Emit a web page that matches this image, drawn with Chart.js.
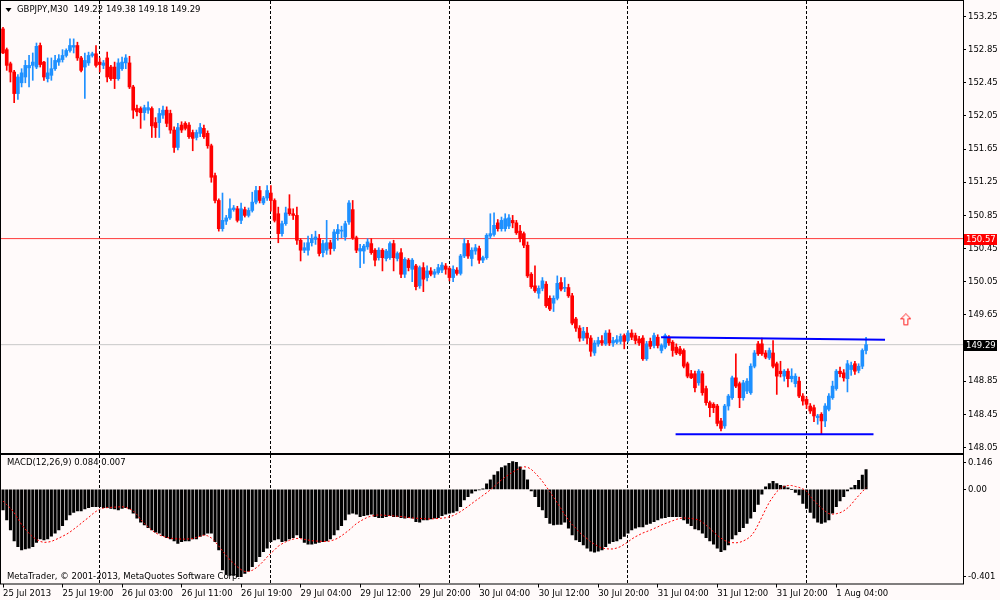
<!DOCTYPE html>
<html>
<head>
<meta charset="utf-8">
<script src="https://cdn.jsdelivr.net/npm/chart.js@4.4.1/dist/chart.umd.min.js"></script>
<style>
html, body { margin: 0; padding: 0; background: #fffafa; }
#wrap { position: relative; width: 1000px; height: 600px; overflow: hidden; background: #fffafa; }
canvas { position: absolute; left: 0; }
#price { top: 0; }
#macd { top: 454px; }
</style>
</head>
<body>
<div id="wrap">
  <canvas id="price" width="1000" height="454"></canvas>
  <canvas id="macd" width="1000" height="146"></canvas>
</div>
<script>
// GBPJPY M30, 25 Jul 11:00 .. 1 Aug 08:00 (233 bars)
const open = [
  153.10,152.85,152.68,152.58,152.32,152.45,152.52,152.63,152.66,152.64,
  152.90,152.70,152.50,152.54,152.62,152.70,152.73,152.78,152.84,152.88,
  152.90,152.75,152.64,152.69,152.78,152.80,152.70,152.66,152.75,152.64,
  152.64,152.50,152.62,152.69,152.69,152.40,152.14,152.14,152.09,152.12,
  152.14,151.97,151.97,152.06,152.12,152.08,151.88,151.67,151.94,151.96,
  151.94,151.85,151.79,151.84,151.90,151.84,151.69,151.33,151.03,150.69,
  150.78,150.82,150.92,150.93,150.79,150.92,150.85,150.91,151.01,151.15,
  151.00,151.06,151.12,151.03,150.87,150.63,150.75,150.93,150.87,150.85,
  150.55,150.43,150.43,150.52,150.56,150.57,150.40,150.43,150.52,150.45,
  150.63,150.66,150.59,150.77,150.92,150.58,150.42,150.42,150.47,150.51,
  150.43,150.34,150.43,150.33,150.34,150.51,150.33,150.40,150.14,150.31,
  150.20,150.24,150.00,150.22,150.10,150.18,150.14,150.16,150.19,150.24,
  150.21,150.10,150.19,150.15,150.36,150.51,150.33,150.42,150.45,150.31,
  150.34,150.60,150.62,150.76,150.69,150.69,150.72,150.79,150.76,150.66,
  150.63,150.49,150.14,150.00,149.91,149.97,150.02,149.85,149.79,149.85,
  150.04,149.97,149.98,149.88,149.60,149.49,149.37,149.43,149.37,149.19,
  149.30,149.34,149.30,149.43,149.31,149.32,149.33,149.40,149.34,149.43,
  149.40,149.36,149.37,149.12,149.33,149.28,149.38,149.22,149.26,149.38,
  149.32,149.26,149.24,149.22,149.06,148.94,148.94,148.83,148.94,148.76,
  148.59,148.57,148.55,148.37,148.31,148.55,148.65,148.89,148.82,148.65,
  148.73,148.71,149.03,149.30,149.30,149.19,149.13,149.19,149.06,148.97,
  148.91,148.97,148.88,148.82,148.85,148.67,148.63,148.55,148.53,148.41,
  148.45,148.37,148.51,148.65,148.76,148.97,148.95,148.88,148.99,149.06,
  148.98,149.03,149.22
];
const high = [
  153.12,152.87,152.70,152.60,152.55,152.62,152.72,152.78,152.81,152.93,
  152.93,152.71,152.75,152.75,152.78,152.79,152.85,152.86,152.98,152.98,
  152.94,152.77,152.81,152.82,152.82,152.90,152.75,152.72,152.82,152.66,
  152.70,152.74,152.76,152.79,152.77,152.42,152.18,152.16,152.18,152.22,
  152.16,152.03,152.14,152.17,152.16,152.12,151.92,151.96,151.98,151.98,
  151.97,151.88,151.88,151.96,151.94,151.87,151.71,151.36,151.05,151.12,
  150.85,151.05,150.97,150.96,151.00,150.95,150.94,151.13,151.20,151.20,
  151.08,151.21,151.21,151.05,150.95,150.78,150.95,151.10,150.93,150.95,
  150.57,150.52,150.60,150.62,150.66,150.62,150.55,150.79,150.55,150.68,
  150.74,150.72,150.78,151.03,151.03,150.60,150.50,150.50,150.57,150.57,
  150.45,150.46,150.45,150.44,150.53,150.55,150.41,150.45,150.34,150.33,
  150.33,150.26,150.24,150.28,150.24,150.22,150.20,150.26,150.28,150.27,
  150.23,150.24,150.22,150.38,150.57,150.55,150.46,150.50,150.48,150.36,
  150.63,150.87,150.88,150.80,150.83,150.87,150.86,150.85,150.79,150.73,
  150.65,150.53,150.16,150.24,150.00,150.10,150.05,149.88,149.88,150.12,
  150.10,150.10,150.02,149.91,149.62,149.52,149.50,149.50,149.40,149.34,
  149.38,149.40,149.46,149.47,149.38,149.40,149.42,149.42,149.46,149.47,
  149.43,149.39,149.40,149.33,149.37,149.43,149.41,149.30,149.42,149.40,
  149.34,149.30,149.27,149.24,149.08,148.98,148.97,148.99,148.97,148.79,
  148.61,148.59,148.57,148.40,148.57,148.69,148.91,149.18,148.84,148.86,
  148.88,149.06,149.22,149.33,149.37,149.22,149.25,149.34,149.08,149.09,
  148.99,149.00,149.00,148.94,148.90,148.70,148.66,148.58,148.56,148.45,
  148.47,148.58,148.70,148.85,148.99,149.02,148.99,149.10,149.08,149.09,
  149.06,149.24,149.38
];
const low = [
  152.80,152.60,152.46,152.21,152.25,152.40,152.45,152.40,152.48,152.62,
  152.64,152.48,152.46,152.48,152.60,152.66,152.70,152.76,152.82,152.81,
  152.72,152.58,152.26,152.66,152.76,152.64,152.58,152.62,152.46,152.48,
  152.38,152.48,152.60,152.62,152.38,152.02,152.05,151.90,152.00,152.08,
  151.79,151.79,151.79,152.02,151.92,151.84,151.61,151.64,151.85,151.88,
  151.78,151.63,151.76,151.80,151.78,151.66,151.25,151.00,150.66,150.66,
  150.74,150.80,150.90,150.77,150.75,150.83,150.83,150.89,150.99,151.00,
  150.98,151.03,150.90,150.77,150.52,150.60,150.73,150.85,150.80,150.50,
  150.30,150.40,150.37,150.48,150.50,150.36,150.35,150.38,150.38,150.42,
  150.55,150.58,150.55,150.74,150.56,150.40,150.22,150.27,150.44,150.38,
  150.24,150.31,150.18,150.30,150.32,150.18,150.30,150.10,150.10,150.18,
  150.05,149.95,149.97,149.93,150.06,150.12,150.10,150.14,150.16,150.14,
  150.06,150.05,150.13,150.13,150.34,150.33,150.24,150.38,150.27,150.28,
  150.32,150.57,150.60,150.66,150.66,150.66,150.69,150.70,150.62,150.53,
  150.46,150.10,149.97,149.92,149.85,149.94,149.74,149.70,149.69,149.83,
  149.94,149.93,149.86,149.53,149.45,149.33,149.34,149.30,149.15,149.16,
  149.27,149.28,149.28,149.28,149.27,149.30,149.30,149.24,149.32,149.35,
  149.30,149.28,149.10,149.10,149.24,149.25,149.25,149.19,149.24,149.28,
  149.15,149.17,149.16,149.01,148.89,148.88,148.72,148.80,148.68,148.56,
  148.42,148.47,148.31,148.25,148.28,148.50,148.63,148.77,148.53,148.62,
  148.70,148.69,149.01,149.16,149.16,149.12,149.11,149.01,148.69,148.90,
  148.85,148.78,148.84,148.78,148.65,148.56,148.52,148.46,148.36,148.33,
  148.21,148.30,148.49,148.63,148.74,148.90,148.85,148.72,148.92,148.93,
  148.95,149.00,149.18
];
const close = [
  152.81,152.66,152.58,152.32,152.52,152.57,152.66,152.66,152.70,152.89,
  152.67,152.52,152.57,152.62,152.72,152.74,152.78,152.84,152.90,152.90,
  152.75,152.60,152.72,152.78,152.80,152.66,152.67,152.69,152.52,152.50,
  152.50,152.69,152.70,152.75,152.40,152.12,152.10,152.09,152.15,152.15,
  151.93,151.91,152.08,152.12,151.96,151.88,151.67,151.91,151.88,151.90,
  151.80,151.78,151.85,151.91,151.80,151.69,151.31,151.03,150.69,150.79,
  150.82,150.93,150.94,150.79,150.93,150.85,150.91,151.01,151.15,151.03,
  151.06,151.15,151.03,150.79,150.63,150.75,150.88,150.87,150.85,150.55,
  150.43,150.46,150.52,150.57,150.59,150.39,150.51,150.52,150.45,150.65,
  150.68,150.67,150.75,151.00,150.58,150.43,150.45,150.48,150.53,150.40,
  150.31,150.43,150.34,150.42,150.51,150.34,150.39,150.14,150.32,150.22,
  150.31,149.99,150.22,150.08,150.18,150.14,150.17,150.22,150.25,150.20,
  150.10,150.20,150.15,150.36,150.51,150.36,150.43,150.46,150.31,150.34,
  150.61,150.63,150.73,150.69,150.79,150.81,150.82,150.76,150.64,150.57,
  150.49,150.12,149.99,149.94,149.97,150.06,149.76,149.72,149.85,150.03,
  149.96,149.98,149.88,149.55,149.49,149.37,149.45,149.37,149.21,149.31,
  149.34,149.31,149.43,149.31,149.34,149.35,149.39,149.33,149.43,149.38,
  149.34,149.31,149.12,149.30,149.27,149.40,149.28,149.28,149.40,149.31,
  149.22,149.19,149.18,149.03,148.91,148.89,148.77,148.97,148.71,148.59,
  148.53,148.53,148.34,148.28,148.55,148.67,148.89,148.79,148.65,148.83,
  148.85,149.03,149.19,149.18,149.18,149.14,149.22,149.03,148.91,148.94,
  148.97,148.88,148.91,148.91,148.67,148.61,148.57,148.49,148.43,148.43,
  148.37,148.55,148.67,148.79,148.97,148.94,148.89,149.06,149.04,148.97,
  149.03,149.22,149.29
];
const macdMain = [
  -0.088,-0.130,-0.173,-0.220,-0.244,-0.258,-0.254,-0.251,-0.244,-0.226,
  -0.211,-0.216,-0.211,-0.200,-0.187,-0.173,-0.155,-0.130,-0.109,-0.098,
  -0.092,-0.092,-0.084,-0.078,-0.074,-0.074,-0.074,-0.078,-0.078,-0.081,
  -0.084,-0.088,-0.081,-0.078,-0.084,-0.102,-0.123,-0.140,-0.152,-0.163,
  -0.173,-0.183,-0.187,-0.197,-0.206,-0.211,-0.220,-0.230,-0.223,-0.220,
  -0.220,-0.211,-0.211,-0.201,-0.194,-0.187,-0.187,-0.223,-0.258,-0.343,
  -0.362,-0.367,-0.367,-0.372,-0.372,-0.358,-0.348,-0.329,-0.308,-0.287,
  -0.265,-0.251,-0.223,-0.216,-0.211,-0.223,-0.220,-0.211,-0.206,-0.194,
  -0.206,-0.226,-0.234,-0.234,-0.230,-0.226,-0.223,-0.220,-0.211,-0.194,
  -0.173,-0.155,-0.130,-0.106,-0.102,-0.106,-0.116,-0.112,-0.109,-0.106,
  -0.116,-0.121,-0.121,-0.116,-0.112,-0.116,-0.116,-0.121,-0.123,-0.121,
  -0.123,-0.138,-0.140,-0.130,-0.130,-0.126,-0.123,-0.121,-0.112,-0.106,
  -0.102,-0.098,-0.092,-0.074,-0.045,-0.031,-0.017,-0.007,-0.003,0.001,
  0.023,0.040,0.061,0.075,0.092,0.100,0.111,0.118,0.115,0.096,
  0.082,0.040,-0.007,-0.031,-0.074,-0.088,-0.121,-0.145,-0.152,-0.149,
  -0.149,-0.140,-0.166,-0.194,-0.216,-0.223,-0.237,-0.251,-0.263,-0.268,
  -0.263,-0.258,-0.244,-0.230,-0.223,-0.220,-0.211,-0.201,-0.187,-0.173,
  -0.166,-0.160,-0.160,-0.150,-0.145,-0.138,-0.130,-0.123,-0.121,-0.116,
  -0.116,-0.116,-0.116,-0.130,-0.145,-0.155,-0.169,-0.173,-0.187,-0.206,
  -0.220,-0.234,-0.251,-0.265,-0.258,-0.237,-0.211,-0.194,-0.180,-0.163,
  -0.145,-0.123,-0.095,-0.064,-0.021,0.010,0.024,0.034,0.024,0.017,
  0.014,0.006,0.000,-0.013,-0.024,-0.060,-0.081,-0.098,-0.123,-0.140,
  -0.145,-0.140,-0.130,-0.102,-0.074,-0.050,-0.031,-0.007,0.006,0.017,
  0.038,0.060,0.084
];
const macdSignal = [
  -0.050,-0.066,-0.080,-0.100,-0.125,-0.150,-0.170,-0.188,-0.203,-0.214,
  -0.222,-0.226,-0.225,-0.222,-0.215,-0.208,-0.200,-0.192,-0.182,-0.170,
  -0.158,-0.145,-0.132,-0.120,-0.106,-0.094,-0.085,-0.080,-0.078,-0.077,
  -0.076,-0.075,-0.074,-0.077,-0.083,-0.092,-0.108,-0.128,-0.145,-0.160,
  -0.174,-0.185,-0.194,-0.200,-0.205,-0.208,-0.210,-0.211,-0.212,-0.212,
  -0.211,-0.210,-0.205,-0.200,-0.195,-0.198,-0.207,-0.222,-0.242,-0.262,
  -0.282,-0.300,-0.315,-0.330,-0.342,-0.350,-0.350,-0.345,-0.335,-0.322,
  -0.306,-0.288,-0.272,-0.258,-0.242,-0.232,-0.224,-0.217,-0.212,-0.209,
  -0.210,-0.213,-0.216,-0.219,-0.220,-0.221,-0.222,-0.222,-0.220,-0.215,
  -0.208,-0.198,-0.186,-0.174,-0.160,-0.146,-0.136,-0.127,-0.119,-0.114,
  -0.111,-0.109,-0.110,-0.111,-0.112,-0.113,-0.115,-0.116,-0.118,-0.120,
  -0.122,-0.123,-0.124,-0.125,-0.126,-0.126,-0.125,-0.124,-0.123,-0.121,
  -0.117,-0.112,-0.104,-0.095,-0.084,-0.073,-0.061,-0.049,-0.038,-0.026,
  -0.015,-0.002,0.012,0.027,0.040,0.052,0.063,0.073,0.082,0.090,
  0.096,0.094,0.085,0.070,0.053,0.034,0.012,-0.010,-0.034,-0.058,
  -0.082,-0.108,-0.130,-0.150,-0.166,-0.184,-0.198,-0.210,-0.224,-0.234,
  -0.243,-0.250,-0.253,-0.254,-0.254,-0.250,-0.244,-0.234,-0.224,-0.212,
  -0.202,-0.194,-0.186,-0.180,-0.174,-0.167,-0.160,-0.152,-0.146,-0.140,
  -0.134,-0.128,-0.124,-0.122,-0.123,-0.124,-0.127,-0.130,-0.140,-0.153,
  -0.166,-0.181,-0.196,-0.208,-0.218,-0.225,-0.227,-0.228,-0.226,-0.220,
  -0.212,-0.200,-0.180,-0.150,-0.118,-0.085,-0.055,-0.032,-0.010,0.004,
  0.012,0.016,0.016,0.012,0.008,0.002,-0.008,-0.030,-0.048,-0.064,
  -0.080,-0.093,-0.104,-0.106,-0.104,-0.100,-0.092,-0.080,-0.065,-0.045,
  -0.027,-0.010,0.007
];

const timeLabels = ["25 Jul 2013","25 Jul 19:00","26 Jul 03:00","26 Jul 11:00","26 Jul 19:00",
  "29 Jul 04:00","29 Jul 12:00","29 Jul 20:00","30 Jul 04:00","30 Jul 12:00",
  "30 Jul 20:00","31 Jul 04:00","31 Jul 12:00","31 Jul 20:00","1 Aug 04:00"];
const timeTickBars = [0,16,32,48,64,80,96,112,128,144,160,176,192,208,224];
const daySeparatorBars = [26,72,120,168,216];
const priceTickLabels = ["153.25","152.85","152.45","152.05","151.65","151.25","150.85",
  "150.45","150.05","149.65","149.25","148.85","148.45","148.05"];
const macdTickLabels = ["0.146","0.00","-0.401"];

const symbolTitle = "GBPJPY,M30  149.22 149.38 149.18 149.29";
const macdTitle = "MACD(12,26,9) 0.084 0.007";
const copyright = "MetaTrader, \u00a9 2001-2013, MetaQuotes Software Corp.";

const redLevel = 150.57;
const bidLevel = 149.29;
const necklinePts = [{ x: 176.9, y: 149.38 }, { x: 237.1, y: 149.35 }];
const supportPts = [{ x: 180.8, y: 148.21 }, { x: 234.0, y: 148.21 }];
const arrowPt = [{ x: 242.7, y: 149.59 }];

// ---- styling / layout ----
const BULL = "#1e90ff";
const BEAR = "#ff0000";
const X_MIN = -0.54, X_MAX = 258.06;
const FONT = { family: "DejaVu Sans", size: 8.5 };
const FONT_CSS = '8.5px "DejaVu Sans"';

const barIndex = close.map((_, i) => i);
const floatBars = (a, b) => barIndex.map(i => ({ x: i, y: [a[i], b[i]] }));
const candleColor = c => close[c.dataIndex] >= open[c.dataIndex] ? BULL : BEAR;

function fixAxis(w, h) {
    return s => {
        if (w !== null) s.width = w;
        if (h !== null) s.height = h;
        s.paddingTop = 0; s.paddingBottom = 0;
        s.paddingLeft = 0; s.paddingRight = 0;
    };
}

// outlined red up arrow used as a point style
const arrowImg = document.createElement("canvas");
arrowImg.width = 11; arrowImg.height = 13;
(function () {
    const a = arrowImg.getContext("2d");
    a.strokeStyle = "#ff2020";
    a.lineWidth = 1;
    a.beginPath();
    a.moveTo(5.5, 0.5); a.lineTo(10.5, 5.5); a.lineTo(7.5, 5.5); a.lineTo(7.5, 11.5);
    a.lineTo(3.5, 11.5); a.lineTo(3.5, 5.5); a.lineTo(0.5, 5.5); a.closePath();
    a.stroke();
})();

const framePlugin = {
    id: "frame",
    afterDraw(chart) {
        const { ctx, chartArea: a } = chart;
        ctx.save();
        ctx.strokeStyle = "#000";
        ctx.lineWidth = 1;
        ctx.strokeRect(a.left - 0.5, a.top - 0.5, a.right - a.left + 1, a.bottom - a.top + 1);
        ctx.restore();
    }
};

const priceTextPlugin = {
    id: "priceText",
    afterDraw(chart) {
        const { ctx } = chart;
        const y = chart.scales.y;
        ctx.save();
        // symbol header
        ctx.fillStyle = "#000";
        ctx.beginPath();
        ctx.moveTo(5.5, 8); ctx.lineTo(11.5, 8); ctx.lineTo(8.5, 12); ctx.closePath();
        ctx.fill();
        ctx.font = FONT_CSS;
        ctx.textBaseline = "middle";
        ctx.fillText(symbolTitle, 17, 10);
        // price tags on the axis
        [[redLevel, "#ff0000"], [bidLevel, "#000000"]].forEach(([v, col]) => {
            const py = Math.round(y.getPixelForValue(v));
            ctx.fillStyle = col;
            ctx.fillRect(964, py - 5, 33, 11);
            ctx.fillStyle = "#fff";
            ctx.fillText(v.toFixed(2), 966, py + 0.5);
        });
        ctx.restore();
    }
};

const macdTextPlugin = {
    id: "macdText",
    afterDraw(chart) {
        const { ctx } = chart;
        ctx.save();
        ctx.fillStyle = "#000";
        ctx.font = FONT_CSS;
        ctx.textBaseline = "middle";
        ctx.fillText(macdTitle, 7, 9);
        ctx.fillText(copyright, 7, 123);
        ctx.restore();
    }
};

Chart.defaults.font.family = FONT.family;
Chart.defaults.font.size = FONT.size;
Chart.defaults.color = "#000";

const separatorAxis = () => ({
    type: "linear", position: "bottom", min: X_MIN, max: X_MAX, offset: false,
    afterBuildTicks: s => { s.ticks = daySeparatorBars.map(v => ({ value: v })); },
    ticks: { display: false },
    grid: { color: "#000", lineWidth: 1, drawTicks: false, offset: false },
    border: { display: false, dash: [3, 2] },
    afterFit: fixAxis(null, 0)
});

// ---- price panel ----
new Chart(document.getElementById("price"), {
    type: "bar",
    data: {
        datasets: [
            {
                type: "line", data: [{ x: X_MIN, y: bidLevel }, { x: X_MAX, y: bidLevel }],
                borderColor: "#c8c8c8", borderWidth: 1, pointRadius: 0, order: 6
            },
            {
                type: "line", data: [{ x: X_MIN, y: redLevel }, { x: X_MAX, y: redLevel }],
                borderColor: "#ff3a3a", borderWidth: 1, pointRadius: 0, order: 5
            },
            {
                data: floatBars(low, high), backgroundColor: candleColor,
                barThickness: 1, grouped: false, borderWidth: 0, order: 4
            },
            {
                data: floatBars(open, close), backgroundColor: candleColor,
                barThickness: 3, minBarLength: 1, grouped: false, borderWidth: 0, order: 3
            },
            {
                type: "line", data: necklinePts, borderColor: "#0000ff",
                borderWidth: 2, pointRadius: 0, order: 2
            },
            {
                type: "line", data: supportPts, borderColor: "#0000ff",
                borderWidth: 2, pointRadius: 0, order: 1
            },
            {
                type: "scatter", data: arrowPt, pointStyle: arrowImg,
                pointRadius: 6, order: 0
            }
        ]
    },
    options: {
        responsive: false,
        animation: false,
        devicePixelRatio: 1,
        events: [],
        layout: { autoPadding: false, padding: { left: 1, top: 1, right: 0, bottom: 1 } },
        plugins: { legend: { display: false }, tooltip: { enabled: false } },
        scales: {
            x: separatorAxis(),
            y: {
                type: "linear", position: "right", min: 147.983, max: 153.437,
                afterBuildTicks: s => { s.ticks = priceTickLabels.map(t => ({ value: parseFloat(t) })); },
                ticks: { callback: v => v.toFixed(2), padding: 2, autoSkip: false, color: "#000", font: FONT },
                grid: { drawOnChartArea: false, tickLength: 3, color: "#000" },
                border: { display: false },
                afterFit: fixAxis(37, null)
            }
        }
    },
    plugins: [framePlugin, priceTextPlugin]
});

// ---- MACD panel ----
new Chart(document.getElementById("macd"), {
    type: "bar",
    data: {
        datasets: [
            {
                data: barIndex.map(i => ({ x: i, y: macdMain[i] })),
                backgroundColor: "#000", barThickness: 2.4, borderWidth: 0, order: 2
            },
            {
                type: "line", data: barIndex.map(i => ({ x: i, y: macdSignal[i] })),
                borderColor: "#ff0000", borderWidth: 1, borderDash: [2, 2],
                pointRadius: 0, tension: 0, order: 1
            }
        ]
    },
    options: {
        responsive: false,
        animation: false,
        devicePixelRatio: 1,
        events: [],
        layout: { autoPadding: false, padding: { left: 1, top: 1, right: 0, bottom: 0 } },
        plugins: { legend: { display: false }, tooltip: { enabled: false } },
        scales: {
            x: {
                type: "linear", position: "bottom", min: X_MIN, max: X_MAX, offset: false,
                afterBuildTicks: s => { s.ticks = timeTickBars.map(v => ({ value: v })); },
                ticks: {
                    callback: (v, i) => timeLabels[i], align: "start", maxRotation: 0, minRotation: 0,
                    autoSkip: false, padding: 1, color: "#000", font: FONT
                },
                grid: { drawOnChartArea: false, tickLength: 4, color: "#000", offset: false },
                border: { display: false },
                afterFit: fixAxis(null, 16.5)
            },
            xd: separatorAxis(),
            y: {
                type: "linear", position: "right", min: -0.401, max: 0.146,
                afterBuildTicks: s => { s.ticks = [0.112, 0, -0.373].map(v => ({ value: v })); },
                ticks: { callback: (v, i) => macdTickLabels[i], padding: 2, autoSkip: false, color: "#000", font: FONT },
                grid: { drawOnChartArea: false, tickLength: 3, color: "#000" },
                border: { display: false },
                afterFit: fixAxis(37, null)
            }
        }
    },
    plugins: [framePlugin, macdTextPlugin]
});
</script>
</body>
</html>
